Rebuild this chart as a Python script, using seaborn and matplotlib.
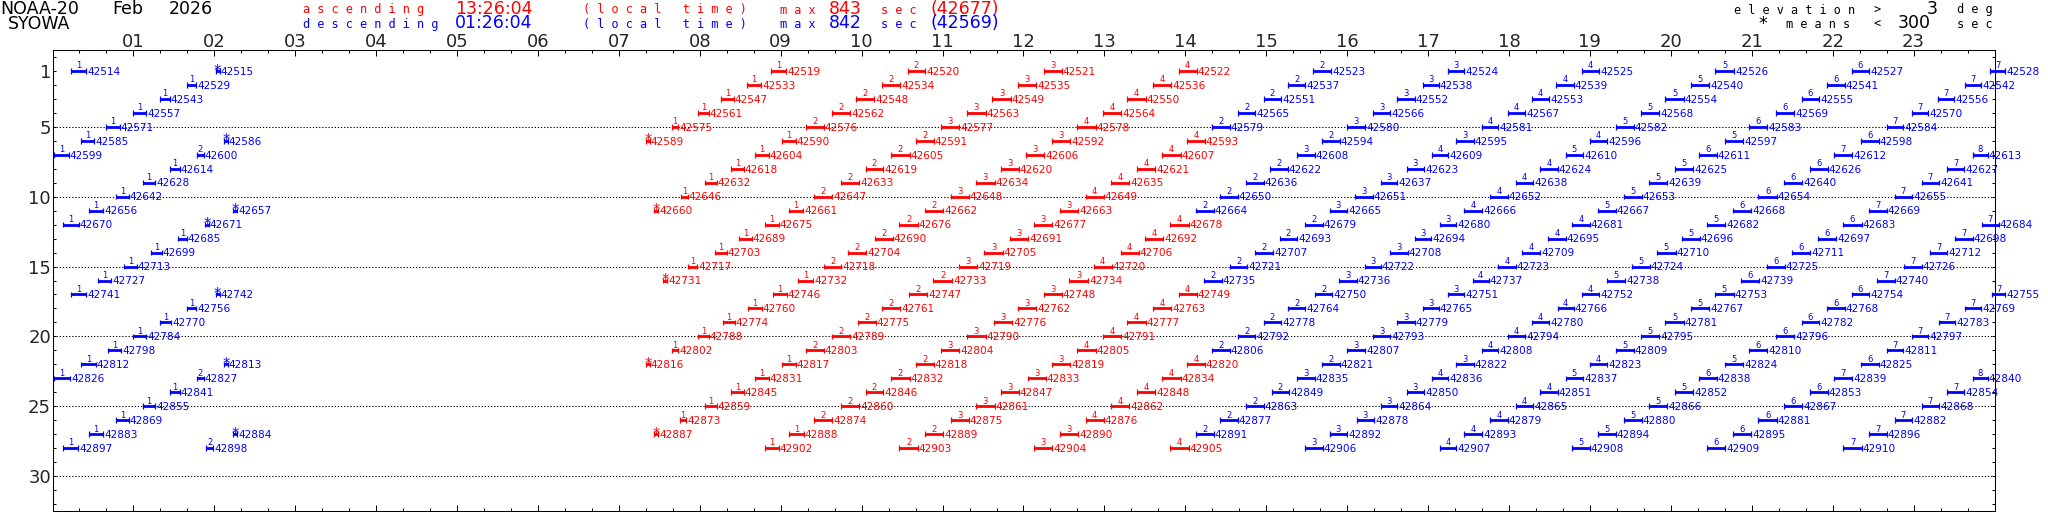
import pandas as pd
import seaborn as sns
import matplotlib.pyplot as plt

RED = '#ff0000'
BLUE = '#0000ff'

# one inner list per day of Feb 2026 (row 1 = Feb 1)
orbits = [
    [42514, 42515, 42519, 42520, 42521, 42522, 42523, 42524, 42525, 42526, 42527, 42528],
    [42529, 42533, 42534, 42535, 42536, 42537, 42538, 42539, 42540, 42541, 42542],
    [42543, 42547, 42548, 42549, 42550, 42551, 42552, 42553, 42554, 42555, 42556],
    [42557, 42561, 42562, 42563, 42564, 42565, 42566, 42567, 42568, 42569, 42570],
    [42571, 42575, 42576, 42577, 42578, 42579, 42580, 42581, 42582, 42583, 42584],
    [42585, 42586, 42589, 42590, 42591, 42592, 42593, 42594, 42595, 42596, 42597, 42598],
    [42599, 42600, 42604, 42605, 42606, 42607, 42608, 42609, 42610, 42611, 42612, 42613],
    [42614, 42618, 42619, 42620, 42621, 42622, 42623, 42624, 42625, 42626, 42627],
    [42628, 42632, 42633, 42634, 42635, 42636, 42637, 42638, 42639, 42640, 42641],
    [42642, 42646, 42647, 42648, 42649, 42650, 42651, 42652, 42653, 42654, 42655],
    [42656, 42657, 42660, 42661, 42662, 42663, 42664, 42665, 42666, 42667, 42668, 42669],
    [42670, 42671, 42675, 42676, 42677, 42678, 42679, 42680, 42681, 42682, 42683, 42684],
    [42685, 42689, 42690, 42691, 42692, 42693, 42694, 42695, 42696, 42697, 42698],
    [42699, 42703, 42704, 42705, 42706, 42707, 42708, 42709, 42710, 42711, 42712],
    [42713, 42717, 42718, 42719, 42720, 42721, 42722, 42723, 42724, 42725, 42726],
    [42727, 42731, 42732, 42733, 42734, 42735, 42736, 42737, 42738, 42739, 42740],
    [42741, 42742, 42746, 42747, 42748, 42749, 42750, 42751, 42752, 42753, 42754, 42755],
    [42756, 42760, 42761, 42762, 42763, 42764, 42765, 42766, 42767, 42768, 42769],
    [42770, 42774, 42775, 42776, 42777, 42778, 42779, 42780, 42781, 42782, 42783],
    [42784, 42788, 42789, 42790, 42791, 42792, 42793, 42794, 42795, 42796, 42797],
    [42798, 42802, 42803, 42804, 42805, 42806, 42807, 42808, 42809, 42810, 42811],
    [42812, 42813, 42816, 42817, 42818, 42819, 42820, 42821, 42822, 42823, 42824, 42825],
    [42826, 42827, 42831, 42832, 42833, 42834, 42835, 42836, 42837, 42838, 42839, 42840],
    [42841, 42845, 42846, 42847, 42848, 42849, 42850, 42851, 42852, 42853, 42854],
    [42855, 42859, 42860, 42861, 42862, 42863, 42864, 42865, 42866, 42867, 42868],
    [42869, 42873, 42874, 42875, 42876, 42877, 42878, 42879, 42880, 42881, 42882],
    [42883, 42884, 42887, 42888, 42889, 42890, 42891, 42892, 42893, 42894, 42895, 42896],
    [42897, 42898, 42902, 42903, 42904, 42905, 42906, 42907, 42908, 42909, 42910],
]

# pass number shown above each bar, '*' = shorter than 300 sec
tags = [
    '1*1234234567', '11234234567', '11234234567', '11234234567', '11234234567',
    '1**123423456', '121234345678', '11234234567', '11234234567', '11234234567',
    '1**123234567', '1*1234234567', '11234234567', '11234234567', '11234234567',
    '1*123234567', '1*1234234567', '11234234567', '11234234567', '11234234567',
    '11234234567', '1**123423456', '121234345678', '11234234567', '11234234567',
    '11234234567', '1**123234567', '12123434567',
]

# a = ascending (red), d = descending (blue)
dirs = [
    'ddaaaadddddd', 'daaaadddddd', 'daaaadddddd', 'daaaadddddd', 'daaaadddddd',
    'ddaaaaaddddd', 'ddaaaadddddd', 'daaaadddddd', 'daaaadddddd', 'daaaadddddd',
    'ddaaaadddddd', 'ddaaaadddddd', 'daaaadddddd', 'daaaadddddd', 'daaaadddddd',
    'daaaadddddd', 'ddaaaadddddd', 'daaaadddddd', 'daaaadddddd', 'daaaadddddd',
    'daaaadddddd', 'ddaaaaaddddd', 'ddaaaadddddd', 'daaaadddddd', 'daaaadddddd',
    'daaaadddddd', 'ddaaaadddddd', 'ddaaaaddddd',
]

# pass start, minutes after local midnight
starts = [
    [14, 121, 533, 634, 735, 835, 935, 1035, 1134, 1233, 1334, 1437],
    [100, 515, 615, 716, 816, 916, 1016, 1115, 1215, 1316, 1418],
    [80, 496, 596, 697, 797, 898, 997, 1097, 1196, 1297, 1398],
    [60, 479, 578, 678, 779, 879, 979, 1079, 1178, 1278, 1379],
    [40, 459, 559, 659, 760, 860, 960, 1060, 1159, 1258, 1360],
    [21, 127, 440, 541, 640, 741, 841, 941, 1041, 1140, 1240, 1341],
    [1, 107, 521, 622, 722, 823, 923, 1023, 1122, 1221, 1321, 1424],
    [87, 503, 603, 703, 804, 903, 1004, 1103, 1203, 1303, 1405],
    [67, 484, 585, 685, 785, 885, 985, 1085, 1184, 1284, 1386],
    [47, 466, 565, 666, 766, 866, 966, 1066, 1165, 1265, 1366],
    [27, 134, 446, 546, 647, 747, 848, 947, 1047, 1146, 1246, 1347],
    [8, 113, 528, 628, 728, 829, 929, 1029, 1127, 1227, 1328, 1431],
    [93, 509, 610, 710, 810, 910, 1010, 1109, 1208, 1309, 1411],
    [73, 491, 590, 691, 792, 892, 992, 1090, 1190, 1290, 1392],
    [53, 471, 572, 672, 772, 873, 973, 1072, 1171, 1271, 1373],
    [34, 453, 553, 653, 754, 854, 954, 1053, 1153, 1252, 1353],
    [14, 121, 534, 635, 735, 835, 936, 1035, 1134, 1233, 1334, 1438],
    [100, 516, 615, 716, 816, 916, 1016, 1116, 1215, 1316, 1418],
    [80, 497, 597, 698, 797, 898, 997, 1097, 1196, 1297, 1399],
    [60, 479, 578, 678, 779, 879, 979, 1079, 1178, 1278, 1379],
    [41, 459, 559, 659, 760, 860, 960, 1060, 1159, 1258, 1360],
    [21, 127, 440, 541, 640, 741, 841, 941, 1041, 1140, 1240, 1341],
    [1, 107, 521, 622, 723, 823, 923, 1023, 1122, 1221, 1321, 1424],
    [87, 503, 603, 703, 804, 904, 1004, 1103, 1203, 1303, 1405],
    [67, 484, 585, 685, 785, 885, 985, 1085, 1184, 1284, 1386],
    [47, 465, 565, 666, 766, 866, 967, 1066, 1165, 1265, 1366],
    [27, 134, 446, 546, 647, 747, 848, 947, 1047, 1146, 1246, 1347],
    [8, 114, 528, 628, 728, 829, 929, 1029, 1127, 1227, 1328],
]

# pass length, minutes
durations = [
    [11, 3, 11, 13, 13.5, 13.5, 13, 12, 13, 14, 13, 11],
    [6.5, 10.5, 13.5, 13.5, 13.5, 13, 12, 13, 13.5, 13, 12],
    [7, 9, 13.5, 13.5, 13.5, 13, 13, 13, 13.5, 13, 12],
    [9.5, 7.5, 13.5, 14, 13.5, 13, 13, 13, 13.5, 13.5, 12],
    [10, 5, 13, 13.5, 13.5, 13, 13.5, 12, 13.5, 13.5, 12.5],
    [10, 3, 3, 10, 13.5, 13.5, 13.5, 13.5, 13, 13, 13.5, 13],
    [11, 5, 10, 13.5, 13.5, 13.5, 13, 12, 13, 13, 13.5, 11],
    [7.5, 9.5, 13, 13.5, 13.5, 13, 13, 13, 13.5, 13.5, 12.5],
    [9, 8.5, 13, 13.5, 13.5, 13, 12, 13, 13.5, 13.5, 13],
    [9.5, 5, 13, 13.5, 13.5, 13, 13, 13, 13.5, 13.5, 13],
    [10.5, 3, 3, 10.5, 13.5, 13.5, 13, 13, 13, 13, 13.5, 13],
    [11.5, 3, 10.5, 13.5, 13.5, 13.5, 13, 12, 13, 13.5, 13.5, 12],
    [6.5, 9.5, 13, 13.5, 13.5, 13, 12.5, 13, 13.5, 13.5, 13],
    [8, 9, 13.5, 13.5, 13.5, 13, 13, 13, 13.5, 13.5, 13],
    [9.5, 7, 13, 13.5, 13.5, 13, 12, 13, 13.5, 13.5, 13],
    [9.5, 3, 11, 14, 14, 13, 13, 12, 13, 13.5, 13],
    [11, 3, 10.5, 13.5, 13.5, 13.5, 13, 12, 13, 13.5, 13, 10],
    [6.5, 10, 13.5, 13.5, 13.5, 13, 12, 12, 13.5, 13, 12],
    [8, 9, 13.5, 13.5, 13.5, 13, 13, 13, 13.5, 13, 12],
    [9.5, 7.5, 13.5, 14, 13.5, 13, 13, 13, 13.5, 13.5, 12],
    [10, 5, 13, 13.5, 13.5, 13, 13.5, 12, 13.5, 13.5, 12.5],
    [11, 3, 3, 10, 13.5, 13.5, 13.5, 13.5, 13, 13, 13.5, 13],
    [12, 5, 10, 13.5, 13.5, 13.5, 13, 12, 13, 13, 13.5, 11],
    [7.5, 9.5, 13, 13.5, 13.5, 13, 13, 13, 13.5, 13.5, 12.5],
    [9, 8.5, 13, 13.5, 13.5, 13, 12, 13, 13.5, 13.5, 13],
    [9.5, 5, 13, 13.5, 13.5, 13, 13, 13, 13.5, 13.5, 13],
    [10.5, 3, 3, 11, 13.5, 13.5, 13, 13, 13, 13, 13.5, 13],
    [11, 5, 10.5, 13.5, 13.5, 13.5, 13, 12, 13, 13.5, 13.5],
]

hour_labels = ['%02d' % h for h in range(1, 24)]
day_labels = [1, 5, 10, 15, 20, 25, 30]

rows = []
for i in range(len(orbits)):
    for o, t, d, s, u in zip(orbits[i], tags[i], dirs[i], starts[i], durations[i]):
        rows.append({'day': i + 1, 'orbit': o, 'tag': t, 'dir': d,
                     'start': s / 60, 'end': (s + u) / 60})
df = pd.DataFrame(rows)
pal = {'a': RED, 'd': BLUE}

sns.set_style('ticks')
plt.rcParams['font.family'] = ['DejaVu Sans']

W, H = 2048, 512
fig = plt.figure(figsize=(W / 100, H / 100), dpi=100)
ax = fig.add_axes([52.5 / W, 1 / H, 1942 / W, 461 / H])

ax.hlines([5, 10, 15, 20, 25, 30], 0, 24, colors='k', linestyles=(0, (1.2, 1.8)),
          lw=0.75, zorder=1)

for d, g in df.groupby('dir'):
    ax.hlines(g['day'], g['start'], g['end'], colors=pal[d], lw=2.0,
              clip_on=False, zorder=3)

caps = pd.concat([df.assign(x=df['start']), df.assign(x=df['end'])])
sns.scatterplot(data=caps, x='x', y='day', hue='dir', palette=pal, marker='|',
                s=16, linewidth=0.9, legend=False, ax=ax, clip_on=False, zorder=4)

for r in df.itertuples():
    c = pal[r.dir]
    mid = (r.start + r.end) / 2
    ax.text(r.end + 0.012, r.day + 0.27, str(r.orbit), color=c, fontsize=7.6,
            ha='left', va='baseline', zorder=5)
    if r.tag == '*':
        ax.text(mid, r.day + 0.33, '*', color=c, fontsize=10.5,
                ha='center', va='baseline', zorder=5)
    else:
        ax.text(mid, r.day - 0.19, r.tag, color=c, fontsize=6,
                ha='center', va='baseline', zorder=5)

ax.set_xlim(0, 24)
ax.set_ylim(32.5, -0.5)
ax.set_xticks(range(1, 24))
ax.set_xticklabels(hour_labels, fontsize=13)
ax.set_xticks([h / 3 for h in range(1, 72) if h % 3], minor=True)
ax.set_yticks(day_labels)
ax.set_yticklabels([str(d) for d in day_labels], fontsize=13)
ax.set_yticks(range(0, 33), minor=True)
ax.tick_params(axis='x', which='both', top=True, bottom=True, labeltop=True,
               labelbottom=False, direction='in', width=0.75, color='k')
ax.tick_params(axis='x', which='major', length=4, pad=-0.5)
ax.tick_params(axis='x', which='minor', length=2.5)
ax.tick_params(axis='y', which='both', left=True, right=True, direction='in',
               length=2.5, width=0.75, pad=1.0, color='k')
ax.set_xlabel('')
ax.set_ylabel('')
for sp in ax.spines.values():
    sp.set_linewidth(0.75)
    sp.set_color('k')


def head(x, y, s, color='k', big=True):
    # header pieces placed in pixel coordinates from the top-left corner
    if big:
        fig.text(x / W, 1 - y / H, s, color=color, fontsize=12.5,
                 ha='left', va='baseline')
    else:
        fig.text(x / W, 1 - y / H, ' '.join(s), color=color, fontsize=8.6,
                 family='DejaVu Sans Mono', ha='left', va='baseline')


head(0, 13.5, 'NOAA-20')
head(112, 13.5, 'Feb')
head(169, 13.5, '2026')
head(8, 29, 'SYOWA')

for y, c, word, clock, mx, orb in [(13.5, RED, 'ascending', '13:26:04', '843', '(42677)'),
                                   (28, BLUE, 'descending', '01:26:04', '842', '(42569)')]:
    head(303, y, word, c, big=False)
    head(455, y, clock, c)
    head(583, y, '(local time)', c, big=False)
    head(780, y, 'max', c, big=False)
    head(829, y, mx, c)
    head(881, y, 'sec', c, big=False)
    head(930, y, orb, c)

head(1734, 13.5, 'elevation', big=False)
head(1873, 13.5, '>', big=False)
head(1927, 13.5, '3')
head(1957, 13.5, 'deg', big=False)
head(1758, 29, '*')
head(1786, 28, 'means', big=False)
head(1873, 28, '<', big=False)
head(1898, 28, '300')
head(1957, 28, 'sec', big=False)

fig.savefig('out.png', dpi=100)
